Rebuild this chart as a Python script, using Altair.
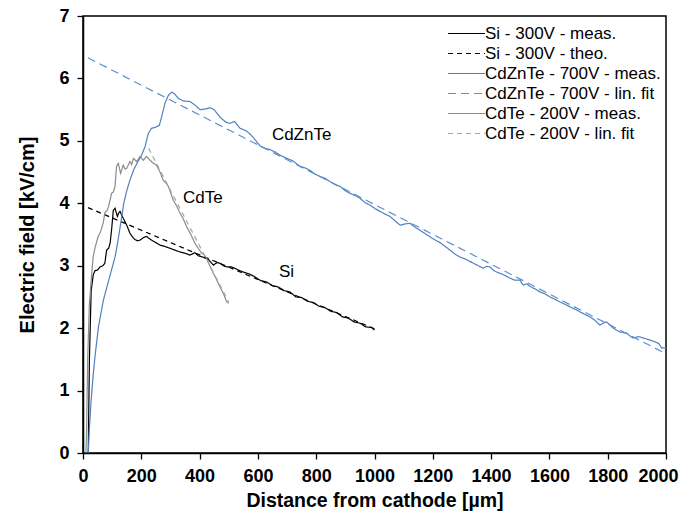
import altair as alt
import pandas as pd

series_names = ["Si - 300V - meas.", "Si - 300V - theo.", "CdZnTe - 700V - meas.",
                "CdZnTe - 700V - lin. fit", "CdTe - 200V - meas.", "CdTe - 200V - lin. fit"]
series_colors = ["#000000", "#000000", "#4f81bd", "#5b8fd0", "#8c8c8c", "#a6a6a6"]
series_dashes = [[1, 0], [5, 4], [1, 0], [8, 5], [1, 0], [5, 4]]

si_meas_x = [18, 22, 28, 35, 41, 50, 58, 68, 75, 81, 88, 93, 98, 104, 110, 114, 118, 122, 127, 132,
             138, 150, 161, 170, 178, 187, 196, 207, 218, 226, 235, 250, 264, 280, 298, 315, 333, 350,
             367, 384, 395, 410, 430, 447, 460, 470, 482, 493, 510, 525, 538, 555, 570, 590, 610, 630,
             650, 670, 690, 710, 730, 750, 770, 790, 810, 830, 850, 870, 890, 910, 930, 950, 970, 990, 1000]
si_meas_y = [0.0, 1.5, 2.6, 2.85, 2.92, 2.93, 2.98, 3.0, 3.04, 3.25, 3.28, 3.36, 3.57, 3.89, 3.92, 3.85,
             3.79, 3.84, 3.87, 3.82, 3.76, 3.65, 3.52, 3.46, 3.42, 3.40, 3.41, 3.45, 3.47, 3.44, 3.41,
             3.37, 3.33, 3.31, 3.28, 3.25, 3.22, 3.20, 3.17, 3.21, 3.16, 3.14, 3.10, 3.01, 3.05, 3.04,
             3.00, 2.98, 2.98, 2.95, 2.92, 2.89, 2.87, 2.82, 2.76, 2.74, 2.68, 2.66, 2.60, 2.58, 2.50,
             2.49, 2.43, 2.41, 2.35, 2.33, 2.27, 2.25, 2.18, 2.16, 2.10, 2.08, 2.02, 2.01, 1.97]

si_theo_x = [17, 1000]
si_theo_y = [3.93, 1.99]

czt_meas_x = [18, 22, 28, 35, 41, 53, 70, 93, 110, 120, 130, 140, 150, 161, 175, 190, 201, 213, 224,
              235, 250, 262, 270, 281, 293, 304, 315, 327, 344, 367, 385, 401, 420, 436, 450, 470, 490,
              504, 520, 539, 560, 575, 590, 607, 625, 641, 660, 676, 699, 720, 744, 760, 778, 795, 813,
              830, 847, 865, 882, 900, 916, 935, 950, 968, 985, 1000, 1019, 1035, 1053, 1070, 1088, 1105,
              1122, 1135, 1145, 1165, 1185, 1205, 1225, 1242, 1259, 1275, 1293, 1315, 1339, 1356, 1373,
              1385, 1396, 1410, 1419, 1440, 1465, 1480, 1499, 1510, 1522, 1533, 1550, 1568, 1585, 1602,
              1620, 1636, 1655, 1671, 1690, 1705, 1722, 1739, 1755, 1773, 1785, 1796, 1808, 1819, 1830,
              1842, 1865, 1878, 1888, 1900, 1910, 1930, 1945, 1968, 1976, 1985, 2000]
czt_meas_y = [0.0, 0.4, 0.85, 1.25, 1.54, 2.02, 2.45, 2.85, 3.14, 3.4, 3.7, 4.0, 4.2, 4.37, 4.55, 4.68,
              4.77, 4.91, 5.12, 5.2, 5.22, 5.25, 5.39, 5.6, 5.73, 5.78, 5.75, 5.68, 5.64, 5.63, 5.57,
              5.50, 5.51, 5.53, 5.50, 5.38, 5.30, 5.28, 5.31, 5.20, 5.16, 5.10, 5.02, 4.92, 4.88, 4.86,
              4.82, 4.77, 4.72, 4.68, 4.59, 4.57, 4.53, 4.47, 4.43, 4.40, 4.35, 4.30, 4.27, 4.20, 4.16,
              4.12, 4.08, 4.01, 3.97, 3.92, 3.87, 3.83, 3.79, 3.72, 3.65, 3.67, 3.68, 3.63, 3.60, 3.54,
              3.48, 3.42, 3.37, 3.31, 3.25, 3.19, 3.14, 3.10, 3.04, 3.00, 2.96, 2.99, 2.98, 2.92, 2.90,
              2.86, 2.80, 2.77, 2.77, 2.69, 2.71, 2.67, 2.63, 2.58, 2.55, 2.50, 2.46, 2.42, 2.38, 2.34,
              2.30, 2.26, 2.22, 2.18, 2.13, 2.05, 2.08, 2.10, 2.05, 2.00, 1.97, 1.94, 1.92, 1.87, 1.84,
              1.86, 1.86, 1.83, 1.81, 1.77, 1.75, 1.68, 1.69]

czt_fit_x = [17, 2000]
czt_fit_y = [6.33, 1.59]

cdte_meas_x = [10, 12, 16, 22, 30, 35, 42, 52, 58, 64, 70, 75, 82, 88, 98, 104, 110, 115, 121, 129, 138,
               144, 150, 161, 167, 173, 184, 196, 207, 218, 230, 241, 250, 258, 266, 275, 284, 293, 302,
               310, 322, 333, 344, 355, 370, 384, 395, 407, 415, 424, 435, 447, 458, 470, 482, 493, 500]
cdte_meas_y = [0.0, 0.3, 1.5, 2.4, 2.88, 3.15, 3.3, 3.47, 3.52, 3.6, 3.7, 3.85, 3.88, 3.95, 4.16, 4.18,
               4.27, 4.59, 4.64, 4.48, 4.61, 4.55, 4.56, 4.67, 4.62, 4.72, 4.67, 4.75, 4.69, 4.75, 4.69,
               4.64, 4.62, 4.56, 4.48, 4.37, 4.33, 4.27, 4.15, 4.05, 3.95, 3.84, 3.75, 3.63, 3.50, 3.36,
               3.28, 3.20, 3.18, 3.12, 3.00, 2.88, 2.78, 2.66, 2.55, 2.42, 2.40]

cdte_fit_x = [225, 500]
cdte_fit_y = [4.88, 2.42]

label_text = ["CdZnTe", "CdTe", "Si"]
label_x = [648, 343, 672]
label_y = [5.09, 4.08, 2.9]

xs = [si_meas_x, si_theo_x, czt_meas_x, czt_fit_x, cdte_meas_x, cdte_fit_x]
ys = [si_meas_y, si_theo_y, czt_meas_y, czt_fit_y, cdte_meas_y, cdte_fit_y]
rows = []
for name, sx, sy in zip(series_names, xs, ys):
    for i, (a, b) in enumerate(zip(sx, sy)):
        rows.append({"series": name, "x": a, "y": b, "i": i})
df = pd.DataFrame(rows)
labels_df = pd.DataFrame({"t": label_text, "x": label_x, "y": label_y})

FONT = "Arial, Liberation Sans, sans-serif"

x_axis = alt.Axis(
    title="Distance from cathode [µm]",
    values=list(range(0, 2001, 100)),
    labelExpr="datum.value % 200 === 0 ? datum.label : ''",
    format="d",
    tickSize={"condition": {"test": "datum.value % 200 === 0", "value": 6}, "value": 3},
    labelOffset={"condition": {"test": "datum.value === 2000", "value": -8}, "value": 0},
    tickColor="black", tickWidth=1.3, domainColor="black", domainWidth=1.5,
    labelFont=FONT, labelFontSize=18, labelFontWeight="bold", labelColor="black",
    labelPadding=8, labelFlush=False, labelOverlap=False,
    titleFont=FONT, titleFontSize=19.5, titleFontWeight="bold", titleColor="black", titlePadding=6,
    grid=False,
)
y_axis = alt.Axis(
    title="Electric field [kV/cm]",
    values=[v / 2 for v in range(0, 15)],
    labelExpr="datum.value % 1 === 0 ? datum.label : ''",
    format="d",
    tickSize={"condition": {"test": "datum.value % 1 === 0", "value": 6}, "value": 3},
    tickColor="black", tickWidth=1.3, domainColor="black", domainWidth=1.5,
    labelFont=FONT, labelFontSize=18, labelFontWeight="bold", labelColor="black",
    labelPadding=8, labelFlush=False, labelOverlap=False,
    titleFont=FONT, titleFontSize=20, titleFontWeight="bold", titleColor="black", titlePadding=21,
    grid=False,
)

lines = alt.Chart(df).mark_line(strokeWidth=1.2, clip=True).encode(
    x=alt.X("x:Q", scale=alt.Scale(domain=[0, 2000], nice=False), axis=x_axis),
    y=alt.Y("y:Q", scale=alt.Scale(domain=[0, 7], nice=False), axis=y_axis),
    color=alt.Color("series:N", scale=alt.Scale(domain=series_names, range=series_colors),
                    sort=series_names,
                    legend=alt.Legend(title=None, orient="none", legendX=377, legendY=9,
                                      symbolType="M-4.1,0H3.3", symbolSize=100, symbolStrokeWidth=1.2,
                                      symbolFillColor="transparent",
                                      labelFont=FONT, labelFontSize=17, labelColor="black",
                                      labelLimit=400, labelOffset=8, rowPadding=2, padding=0)),
    strokeDash=alt.StrokeDash("series:N", scale=alt.Scale(domain=series_names, range=series_dashes),
                              sort=series_names, legend=None),
    order="i:Q",
)

texts = alt.Chart(labels_df).mark_text(align="left", baseline="middle", font=FONT, fontSize=17,
                                       color="black").encode(
    x="x:Q", y="y:Q", text="t:N")

chart = alt.layer(lines, texts).properties(
    width=583, height=437,
    autosize=alt.AutoSizeParams(type="none"),
    padding={"left": 75, "top": 8, "right": 13, "bottom": 60},
).configure_view(stroke="black", strokeWidth=1.5)

chart.save("out.html", embed_options={"renderer": "svg", "actions": False})
